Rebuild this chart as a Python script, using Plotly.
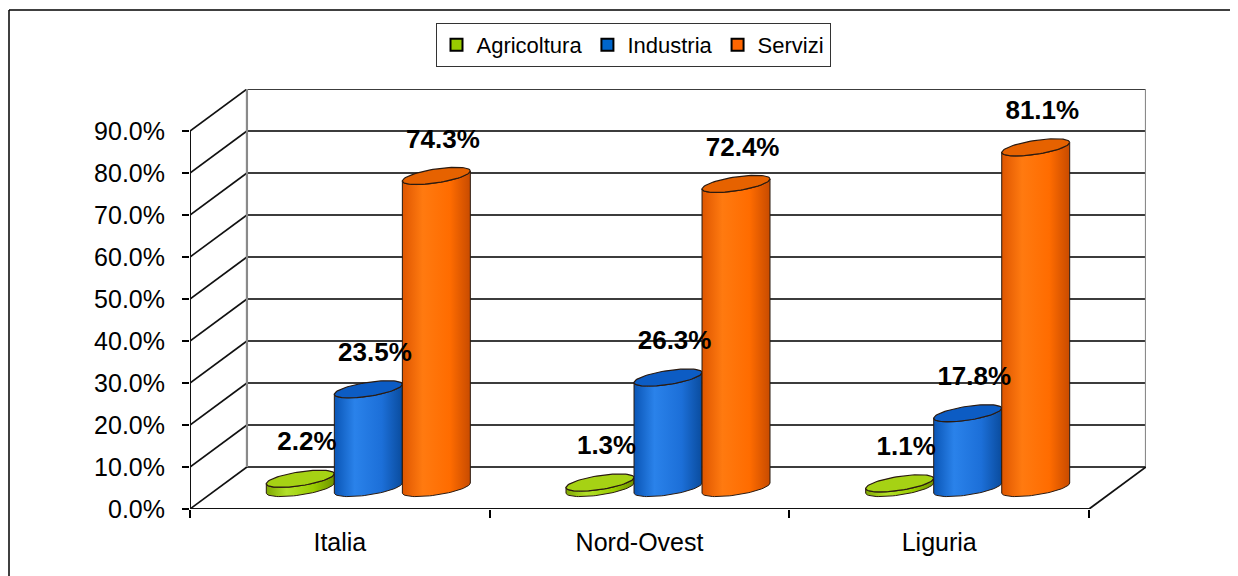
import numpy as np
import plotly.graph_objects as go

# ---------------- data ----------------
categories = ["Italia", "Nord-Ovest", "Liguria"]
series_names = ["Agricoltura", "Industria", "Servizi"]
agricoltura = [2.2, 1.3, 1.1]
industria = [23.5, 26.3, 17.8]
servizi = [74.3, 72.4, 81.1]
y_ticks = [0, 10, 20, 30, 40, 50, 60, 70, 80, 90]
y_ticklabels = [f"{v:.1f}%" for v in y_ticks]

series_values = [agricoltura, industria, servizi]

# ---------------- styling ----------------
FONT = "Liberation Sans, Arial, sans-serif"
top_colors = ["#A6D214", "#0C5CC4", "#E66200"]
legend_colors = ["#99CC00", "#0066CC", "#FF6600"]
body_scales = [
    [[0, "#7FA800"], [0.3, "#B3E02A"], [0.7, "#99CC00"], [1, "#6E9200"]],
    [[0, "#0A55B5"], [0.3, "#2A82EA"], [0.7, "#1C6FD8"], [1, "#0A4C9E"]],
    [[0, "#DE5600"], [0.3, "#FF7A10"], [0.7, "#FF6C00"], [1, "#C84B00"]],
]
outline = "#2A1A10"

# 3D geometry (in axis units)
W = 3.19           # x range width
DX = 0.19          # depth offset x
DY = 10.0          # depth offset y
GAP = 0.227        # spacing between cylinders
A = 0.1134         # ellipse half-width
B = 1.67           # ellipse half-height
TILT = 1.19        # perspective tilt of ellipse

# page offset (body margin of the html page)
OFF = 8
PLOT_W = 956
PLOT_H = 420

fig = go.Figure()

# cylinders
t_front = np.linspace(np.pi, 2 * np.pi, 40)
t_full = np.linspace(0, 2 * np.pi, 80)
for ci, cat in enumerate(categories):
    for si in range(3):
        v = series_values[si][ci]
        cx = ci + 0.5 + DX / 2 + (si - 1) * GAP
        base = DY / 2
        top = v + DY / 2
        # body
        xs = [cx - A, cx - A]
        ys = [base - TILT, top - TILT]
        xs += list(cx + A * np.cos(t_front))
        ys += list(top + TILT * np.cos(t_front) + B * np.sin(t_front))
        xs += [cx + A, cx + A]
        ys += [top + TILT, base + TILT]
        tb = t_front[::-1]
        xs += list(cx + A * np.cos(tb))
        ys += list(base + TILT * np.cos(tb) + B * np.sin(tb))
        fig.add_trace(go.Scatter(
            x=xs, y=ys, mode="lines", fill="toself",
            fillgradient=dict(type="horizontal", colorscale=body_scales[si]),
            line=dict(color=outline, width=1), showlegend=False, hoverinfo="skip"))
        # top
        fig.add_trace(go.Scatter(
            x=list(cx + A * np.cos(t_full)),
            y=list(top + TILT * np.cos(t_full) + B * np.sin(t_full)),
            mode="lines", fill="toself", fillcolor=top_colors[si],
            line=dict(color=outline, width=1.2), showlegend=False, hoverinfo="skip"))

# value labels
for si in range(3):
    xs = [ci + 0.5 + DX / 2 + (si - 1) * GAP + 0.022 for ci in range(3)]
    ys = [v + DY / 2 + 8.3 for v in series_values[si]]
    fig.add_trace(go.Scatter(
        x=xs, y=ys, mode="text", text=[f"{v:.1f}%" for v in series_values[si]],
        textfont=dict(family=FONT, size=26, color="black", weight="bold"),
        textposition="middle center", cliponaxis=False, showlegend=False,
        hoverinfo="skip"))

# legend entries
for si, name in enumerate(series_names):
    fig.add_trace(go.Scatter(
        x=[None], y=[None], mode="markers", name=name,
        marker=dict(symbol="square", size=12, color=legend_colors[si],
                    line=dict(color="black", width=1.5))))

# walls / grid
shapes = []
for v in y_ticks:
    shapes.append(dict(type="line", xref="x", yref="y", x0=DX, x1=3 + DX,
                       y0=v + DY, y1=v + DY, line=dict(color="#3C3C3C", width=2), layer="below"))
    shapes.append(dict(type="line", xref="x", yref="y", x0=0, x1=DX,
                       y0=v, y1=v + DY, line=dict(color="#111111", width=1.6), layer="below"))
for xv in [DX, 3 + DX]:
    shapes.append(dict(type="line", xref="x", yref="y", x0=xv, x1=xv,
                       y0=DY, y1=90 + DY, line=dict(color="#8A8A8A", width=2.2), layer="below"))
# floor
shapes.append(dict(type="line", xref="x", yref="y", x0=0, x1=3, y0=0, y1=0,
                   line=dict(color="#111111", width=2.2)))
shapes.append(dict(type="line", xref="x", yref="y", x0=3, x1=3 + DX, y0=0, y1=DY,
                   line=dict(color="#111111", width=1.8)))
# front y axis line
shapes.append(dict(type="line", xref="x", yref="y", x0=0, x1=0, y0=0, y1=90,
                   line=dict(color="#111111", width=2)))
# outer border (screen px 9,10)
bx = (9 - 190) / PLOT_W
by = (509 - 10) / PLOT_H
shapes.append(dict(type="line", xref="paper", yref="paper", x0=bx, x1=1.2,
                   y0=by, y1=by, line=dict(color="black", width=1.5)))
shapes.append(dict(type="line", xref="paper", yref="paper", x0=bx, x1=bx,
                   y0=by, y1=-0.3, line=dict(color="black", width=1.5)))

fig.update_layout(
    width=1238 - OFF, height=576 - OFF,
    margin=dict(l=190 - OFF, r=92, t=89 - OFF, b=67),
    paper_bgcolor="white", plot_bgcolor="white",
    font=dict(family=FONT, color="black"),
    shapes=shapes,
    showlegend=True,
    legend=dict(orientation="h", x=(633 - 190) / PLOT_W, xanchor="center",
                y=(509 - 23) / PLOT_H, yanchor="top",
                font=dict(family=FONT, size=22, color="black"),
                bordercolor="#333333", borderwidth=1, bgcolor="white",
                itemsizing="constant", itemwidth=30, tracegroupgap=0),
    xaxis=dict(range=[0, W], tickvals=[0.5, 1.5, 2.5], ticktext=categories,
               showgrid=False, zeroline=False, showline=False,
               ticks="outside", ticklen=0, tickfont=dict(size=25, family=FONT),
               ticklabelstandoff=11,
               minor=dict(tickvals=[0, 1, 2, 3], ticks="outside", ticklen=8,
                          tickcolor="black", tickwidth=1.5, showgrid=False),
               fixedrange=True),
    yaxis=dict(range=[0, 100], tickvals=y_ticks, ticktext=y_ticklabels,
               showgrid=False, zeroline=False, showline=False,
               ticks="outside", ticklen=7, tickcolor="black", tickwidth=1.5,
               tickfont=dict(size=25, family=FONT), ticklabelstandoff=12,
               fixedrange=True),
)

fig.write_html("out.html")
